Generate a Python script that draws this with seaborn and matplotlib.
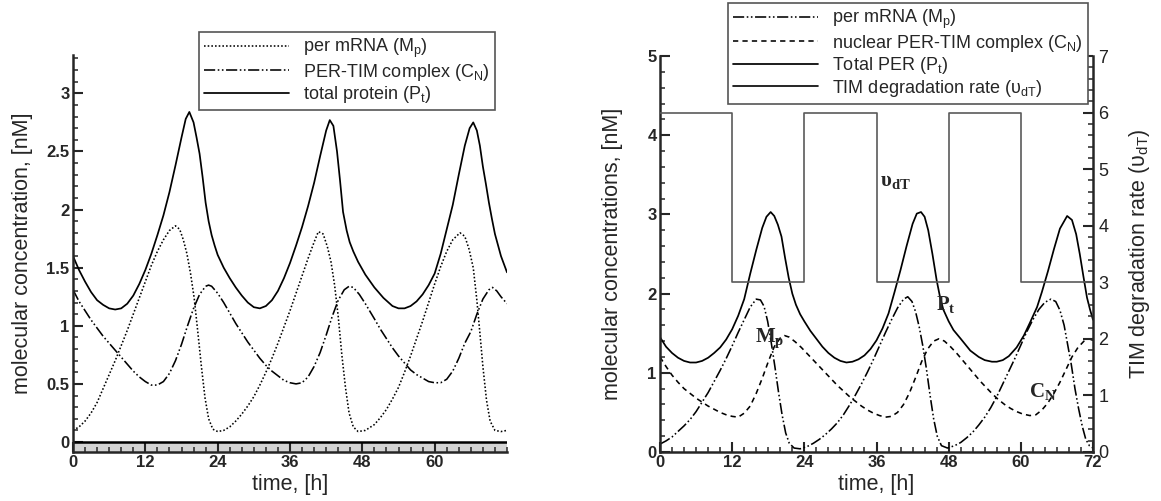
import matplotlib
matplotlib.use("Agg")
import matplotlib.pyplot as plt
import seaborn as sns
from matplotlib.ticker import MultipleLocator

# ---------------- data ----------------
# Left panel
L_pt_t = [0, 1, 2, 3, 4, 5, 6, 7, 8, 9, 10, 11, 12, 13, 14, 15, 16, 17, 18, 18.7, 19.3, 20, 20.5, 21, 21.5, 22,
          22.5, 23, 23.5, 24, 25, 26, 27, 28, 29, 30, 31, 32, 33, 34, 35, 36, 37, 38, 39, 40, 41, 42, 42.6, 43.2,
          43.8, 44.3, 44.8, 45.4, 45.9, 46.5, 47.3, 48.5, 50, 51.5, 53, 54, 55, 56, 57, 58, 59, 60, 61, 62, 63,
          64, 65, 65.8, 66.4, 67, 67.5, 68, 68.5, 69, 69.5, 70, 71, 72]
L_pt_y = [1.60, 1.48, 1.38, 1.29, 1.22, 1.18, 1.15, 1.14, 1.15, 1.19, 1.26, 1.36, 1.48, 1.62, 1.78, 1.95, 2.15,
          2.38, 2.62, 2.78, 2.84, 2.75, 2.62, 2.48, 2.28, 2.06, 1.90, 1.78, 1.69, 1.61, 1.50, 1.41, 1.33, 1.26,
          1.20, 1.16, 1.15, 1.17, 1.22, 1.30, 1.41, 1.54, 1.69, 1.85, 2.03, 2.23, 2.46, 2.68, 2.77, 2.72, 2.50,
          2.25, 1.98, 1.82, 1.72, 1.64, 1.55, 1.44, 1.33, 1.24, 1.17, 1.15, 1.15, 1.17, 1.21, 1.27, 1.35, 1.45,
          1.62, 1.83, 2.04, 2.30, 2.55, 2.70, 2.75, 2.68, 2.55, 2.37, 2.22, 2.06, 1.92, 1.79, 1.60, 1.46]

L_mp_t = [0, 1, 2, 3, 4, 5, 6, 7, 8, 9, 10, 11, 12, 13, 14, 15, 16, 17, 17.7, 18.3, 18.9, 19.5, 20.1, 20.7,
          21.3, 21.9, 22.5, 23.2, 24, 25, 26, 27, 28, 29, 30, 31, 32, 33, 34, 35, 36, 37, 38, 39, 40, 40.7, 41.5,
          42.2, 42.8, 43.4, 44, 44.6, 45.2, 45.8, 46.5, 47.3, 48.5, 50, 51, 52, 53, 54, 55, 56, 57, 58, 59, 60,
          61, 62, 63, 64.2, 65, 65.7, 66.4, 67, 67.5, 68, 68.6, 69.2, 70, 71, 72]
L_mp_y = [0.10, 0.13, 0.18, 0.25, 0.34, 0.46, 0.58, 0.70, 0.83, 0.96, 1.10, 1.24, 1.38, 1.52, 1.64, 1.74, 1.82,
          1.86, 1.83, 1.74, 1.62, 1.45, 1.24, 0.95, 0.65, 0.38, 0.20, 0.11, 0.09, 0.10, 0.13, 0.18, 0.24, 0.31,
          0.39, 0.49, 0.60, 0.72, 0.85, 0.99, 1.13, 1.28, 1.43, 1.58, 1.72, 1.81, 1.79, 1.68, 1.55, 1.35, 1.08,
          0.75, 0.47, 0.25, 0.13, 0.09, 0.10, 0.15, 0.21, 0.28, 0.37, 0.47, 0.60, 0.74, 0.89, 1.04, 1.20, 1.36,
          1.51, 1.64, 1.74, 1.80, 1.77, 1.66, 1.50, 1.22, 0.94, 0.65, 0.36, 0.18, 0.10, 0.09, 0.10]

L_cn_t = [0, 1, 2, 3, 4, 5, 6, 7, 8, 9, 10, 11, 12, 13, 14, 15, 16, 17, 18, 19, 20, 21, 22, 22.5, 23, 24, 25, 26,
          27, 28, 29, 30, 31, 32, 33, 34, 35, 36, 37, 38, 39, 40, 41, 42, 43, 44, 45, 45.8, 46.5, 47.5, 48.5, 50,
          51, 52, 53, 54, 55, 56, 57, 58, 59, 60, 61, 62, 63, 64, 65, 66, 67, 68, 69, 69.6, 70.3, 71, 72]
L_cn_y = [1.31, 1.21, 1.13, 1.05, 0.98, 0.91, 0.85, 0.79, 0.73, 0.67, 0.61, 0.56, 0.52, 0.49, 0.49, 0.52, 0.59,
          0.70, 0.84, 1.00, 1.15, 1.27, 1.34, 1.35, 1.34, 1.28, 1.20, 1.11, 1.02, 0.94, 0.86, 0.79, 0.72, 0.66,
          0.61, 0.57, 0.53, 0.51, 0.50, 0.51, 0.56, 0.65, 0.77, 0.92, 1.08, 1.22, 1.31, 1.34, 1.33, 1.27, 1.19,
          1.06, 0.97, 0.89, 0.81, 0.74, 0.68, 0.62, 0.58, 0.55, 0.52, 0.51, 0.51, 0.54, 0.61, 0.72, 0.85, 0.95,
          1.10, 1.23, 1.31, 1.33, 1.30, 1.25, 1.19]

# Right panel
R_pt_t = [0, 1, 2, 3, 4, 5, 6, 7, 8, 9, 10, 11, 12, 13, 14, 15, 16, 17, 17.7, 18.4, 19, 19.6, 20.2, 20.8, 21.4,
          22, 22.6, 23.3, 24, 25, 26, 27, 28, 29, 30, 31, 32, 33, 34, 35, 36, 37, 38, 39, 40, 41, 42, 42.7, 43.4,
          44, 44.6, 45.3, 46, 46.5, 47.1, 48, 48.8, 50, 51.6, 53, 54, 55.2, 56, 57, 58, 59.3, 60.5, 61.5, 62.7,
          63.5, 64.5, 65.5, 66.5, 67.7, 68.5, 69.2, 69.8, 70.4, 71, 71.5, 72]
R_pt_y = [1.45, 1.33, 1.25, 1.19, 1.15, 1.13, 1.13, 1.15, 1.19, 1.25, 1.32, 1.42, 1.55, 1.72, 1.93, 2.25, 2.55,
          2.83, 2.97, 3.03, 2.98, 2.87, 2.72, 2.45, 2.20, 2.00, 1.86, 1.74, 1.65, 1.53, 1.43, 1.33, 1.25, 1.19,
          1.15, 1.13, 1.14, 1.17, 1.22, 1.30, 1.41, 1.56, 1.75, 2.02, 2.30, 2.60, 2.88, 3.01, 3.03, 2.97, 2.80,
          2.50, 2.17, 1.98, 1.80, 1.65, 1.54, 1.43, 1.28, 1.20, 1.16, 1.14, 1.14, 1.16, 1.21, 1.32, 1.47, 1.63,
          1.83, 2.02, 2.28, 2.56, 2.82, 2.98, 2.93, 2.75, 2.50, 2.22, 1.95, 1.80, 1.67]

R_mp_t = [0, 1, 2, 3, 4, 5, 6, 7, 8, 9, 10, 11, 12, 13, 14, 15, 16, 16.7, 17.3, 17.9, 18.5, 19.1, 19.7, 20.3,
          20.9, 21.5, 22.3, 23.3, 24.5, 25.5, 26.5, 27.5, 28.5, 29.5, 30.5, 31.5, 32.5, 33.5, 34.5, 35.5, 36.5,
          37.5, 38.5, 39.5, 40.5, 41.2, 41.9, 42.5, 43.1, 43.7, 44.3, 44.9, 45.5, 46.1, 46.8, 47.8, 49, 50, 51,
          52, 53, 54, 55, 56, 57, 58, 59, 60, 61, 62, 63, 64, 65, 65.8, 66.5, 67.2, 67.8, 68.4, 69, 69.6, 70.2,
          70.8, 71.4, 72]
R_mp_y = [0.10, 0.14, 0.19, 0.26, 0.33, 0.41, 0.51, 0.63, 0.75, 0.89, 1.03, 1.18, 1.34, 1.51, 1.67, 1.83, 1.93,
          1.92, 1.84, 1.65, 1.38, 1.08, 0.76, 0.47, 0.24, 0.11, 0.05, 0.04, 0.07, 0.11, 0.16, 0.22, 0.29, 0.37,
          0.47, 0.59, 0.72, 0.86, 1.01, 1.17, 1.34, 1.51, 1.67, 1.82, 1.93, 1.96, 1.90, 1.77, 1.58, 1.34, 1.05,
          0.72, 0.42, 0.20, 0.08, 0.05, 0.08, 0.12, 0.18, 0.25, 0.34, 0.44, 0.56, 0.70, 0.86, 1.02, 1.18, 1.35,
          1.52, 1.67, 1.80, 1.89, 1.93, 1.90, 1.79, 1.60, 1.35, 1.10, 0.80, 0.55, 0.33, 0.16, 0.08, 0.05]

R_cn_t = [0, 1, 2, 3, 4, 5, 6, 7, 8, 9, 10, 11, 12, 13, 14, 15, 16, 17, 18, 19, 20, 20.7, 21.5, 22.5, 23.5, 24.5,
          25.5, 26.5, 27.5, 28.5, 29.5, 30.5, 31.5, 32.5, 33.5, 34.5, 35.5, 36.5, 37.5, 38.5, 39.5, 40.5, 41.5,
          42.5, 43.5, 44.5, 45.5, 46.4, 47.3, 48.3, 49.3, 50.3, 51.3, 52.3, 53.3, 54.3, 55.3, 56.3, 57.3, 58.3,
          59.3, 60.3, 61.5, 62.5, 63.5, 64.5, 65.5, 66.5, 67.5, 68.5, 69.5, 70.5, 71.3, 72]
R_cn_y = [1.20, 1.08, 0.97, 0.88, 0.80, 0.74, 0.68, 0.63, 0.58, 0.54, 0.50, 0.47, 0.45, 0.44, 0.49, 0.58, 0.74,
          0.93, 1.14, 1.33, 1.44, 1.47, 1.45, 1.39, 1.32, 1.24, 1.16, 1.08, 1.00, 0.92, 0.84, 0.77, 0.70, 0.64,
          0.58, 0.53, 0.49, 0.46, 0.44, 0.45, 0.50, 0.60, 0.75, 0.94, 1.14, 1.30, 1.40, 1.43, 1.40, 1.33, 1.25,
          1.16, 1.07, 0.98, 0.89, 0.81, 0.73, 0.66, 0.60, 0.55, 0.51, 0.48, 0.46, 0.47, 0.53, 0.62, 0.74, 0.88,
          1.04, 1.20, 1.32, 1.40, 1.43, 1.41]

# TIM degradation rate (step, value holds from each time onward)
vdT_t = [0, 12, 24, 36, 48, 60, 72]
vdT_y = [6, 3, 6, 3, 6, 3, 3]

left_labels = ["per mRNA (M$_p$)", "PER-TIM complex (C$_N$)", "total protein (P$_t$)"]
right_labels = ["per mRNA (M$_p$)", "nuclear PER-TIM complex (C$_N$)", "Total PER (P$_t$)",
                "TIM degradation rate (\u03c5$_{dT}$)"]

left_xticks = [0, 12, 24, 36, 48, 60]
left_yticks = [0, 0.5, 1, 1.5, 2, 2.5, 3]
right_xticks = [0, 12, 24, 36, 48, 60, 72]
right_yticks = [0, 1, 2, 3, 4, 5]
right2_yticks = [0, 1, 2, 3, 4, 5, 6, 7]

# ---------------- style ----------------
sns.set_style("ticks")
plt.rcParams["font.family"] = ["Liberation Sans", "DejaVu Sans"]
plt.rcParams["mathtext.default"] = "regular"
plt.rcParams["axes.linewidth"] = 1.8

DOT = (0, (1, 1.3))
DDOT = (0, (7, 1.6, 1, 1.6, 1, 1.6))
DASH = (0, (3.3, 2.6))
LW = 1.15
TICK_FS = 12
LABEL_FS = 15.5

fig = plt.figure(figsize=(11.61, 5.01), dpi=100)
axL = fig.add_axes([73 / 1161, 1 - 452 / 501, 434 / 1161, 397 / 501])
axR = fig.add_axes([660 / 1161, 1 - 452 / 501, 433 / 1161, 396 / 501])
ax2 = axR.twinx()


def style_ticks(ax, axis, pad=2.5):
    ax.tick_params(axis=axis, which="major", direction="in", length=7.2, width=1.5, pad=pad)
    ax.tick_params(axis=axis, which="minor", direction="in", length=3.8, width=1.1)


# ---------------- left panel ----------------
axL.axhspan(-0.086, 0, facecolor="#d4d4d4", edgecolor="none", zorder=0.5)
axL.axhline(0, color="black", lw=1.8, zorder=2)
sns.lineplot(x=L_mp_t, y=L_mp_y, ax=axL, color="black", lw=LW, linestyle=DOT, estimator=None)
sns.lineplot(x=L_cn_t, y=L_cn_y, ax=axL, color="black", lw=LW, linestyle=DDOT, estimator=None)
sns.lineplot(x=L_pt_t, y=L_pt_y, ax=axL, color="black", lw=1.25, estimator=None)
linesL = axL.get_lines()[-3:]

axL.set_xlim(0, 72)
axL.set_ylim(-0.086, 3.33)
axL.spines["top"].set_visible(False)
axL.spines["right"].set_visible(False)
axL.set_xticks(left_xticks)
axL.set_xticklabels([str(v) for v in left_xticks], fontweight="bold", fontsize=TICK_FS)
axL.set_yticks(left_yticks)
axL.set_yticklabels([f"{v:g}" for v in left_yticks], fontweight="bold", fontsize=TICK_FS)
axL.xaxis.set_minor_locator(MultipleLocator(2))
axL.yaxis.set_minor_locator(MultipleLocator(0.1))
style_ticks(axL, "both")
axL.set_xlabel("time, [h]", fontsize=LABEL_FS)
axL.set_ylabel("molecular concentration, [nM]", fontsize=LABEL_FS)
axL.xaxis.set_label_coords(0.5, -0.056)
axL.yaxis.set_label_coords(-0.092, 0.5)

legL = axL.legend(linesL, left_labels, loc="upper left",
                  bbox_to_anchor=(199 / 1161, 1 - 32 / 501), bbox_transform=fig.transFigure,
                  borderaxespad=0, frameon=True, fancybox=False, framealpha=1, edgecolor="#555555",
                  fontsize=13, handlelength=4.7, handletextpad=0.8, labelspacing=0.08, borderpad=0.28)
legL.get_frame().set_linewidth(1.2)

# ---------------- right panel ----------------
sns.lineplot(x=R_mp_t, y=R_mp_y, ax=axR, color="black", lw=LW, linestyle=DDOT, estimator=None)
sns.lineplot(x=R_cn_t, y=R_cn_y, ax=axR, color="black", lw=LW, linestyle=DASH, estimator=None)
sns.lineplot(x=R_pt_t, y=R_pt_y, ax=axR, color="black", lw=1.25, estimator=None)
linesR = axR.get_lines()[-3:]
sns.lineplot(x=vdT_t, y=vdT_y, ax=ax2, color="#5a5a5a", lw=1.2, drawstyle="steps-post", estimator=None)
step_line = ax2.get_lines()[-1]

axR.set_xlim(0, 72)
axR.set_ylim(0, 5)
ax2.set_ylim(0, 7)
for a in (axR, ax2):
    a.spines["top"].set_visible(False)
axR.spines["right"].set_visible(False)
ax2.spines["left"].set_visible(False)
ax2.spines["bottom"].set_visible(False)
ax2.spines["right"].set_linewidth(1.8)

axR.set_xticks(right_xticks)
axR.set_xticklabels([str(v) for v in right_xticks], fontweight="bold", fontsize=TICK_FS)
axR.set_yticks(right_yticks)
axR.set_yticklabels([str(v) for v in right_yticks], fontweight="bold", fontsize=TICK_FS)
axR.xaxis.set_minor_locator(MultipleLocator(2))
axR.yaxis.set_minor_locator(MultipleLocator(0.2))
style_ticks(axR, "both")
ax2.set_yticks(right2_yticks)
ax2.set_yticklabels([str(v) for v in right2_yticks], fontsize=13, color="#222222")
ax2.yaxis.set_minor_locator(MultipleLocator(0.2))
style_ticks(ax2, "y", pad=4)
ax2.grid(False)
axR.grid(False)

axR.set_xlabel("time, [h]", fontsize=LABEL_FS)
axR.set_ylabel("molecular concentrations, [nM]", fontsize=LABEL_FS)
ax2.set_ylabel("TIM degradation rate (\u03c5$_{dT}$)", fontsize=LABEL_FS)
axR.xaxis.set_label_coords(0.5, -0.056)
axR.yaxis.set_label_coords(-0.085, 0.5)
ax2.yaxis.set_label_coords(1.078, 0.5)

serif = ["Liberation Serif", "DejaVu Serif"]
axR.text(39.1, 3.42, "\u03c5$_{dT}$", fontsize=15, fontweight="bold", family=serif, ha="center", va="center")
axR.text(47.5, 1.86, "P$_t$", fontsize=15, fontweight="bold", family=serif, ha="center", va="center")
axR.text(18.3, 1.44, "M$_p$", fontsize=15, fontweight="bold", family=serif, ha="center", va="center")
axR.text(63.7, 0.76, "C$_N$", fontsize=15, fontweight="bold", family=serif, ha="center", va="center")

legR = ax2.legend(linesR + [step_line], right_labels, loc="upper left",
                  bbox_to_anchor=(728 / 1161, 1 - 3 / 501), bbox_transform=fig.transFigure,
                  borderaxespad=0, frameon=True, fancybox=False, framealpha=1, edgecolor="#555555",
                  fontsize=13, handlelength=4.7, handletextpad=0.8, labelspacing=0.08, borderpad=0.28)
legR.get_frame().set_linewidth(1.2)
legR.legend_handles[3].set_color("black")

fig.savefig("out.png", dpi=100)
